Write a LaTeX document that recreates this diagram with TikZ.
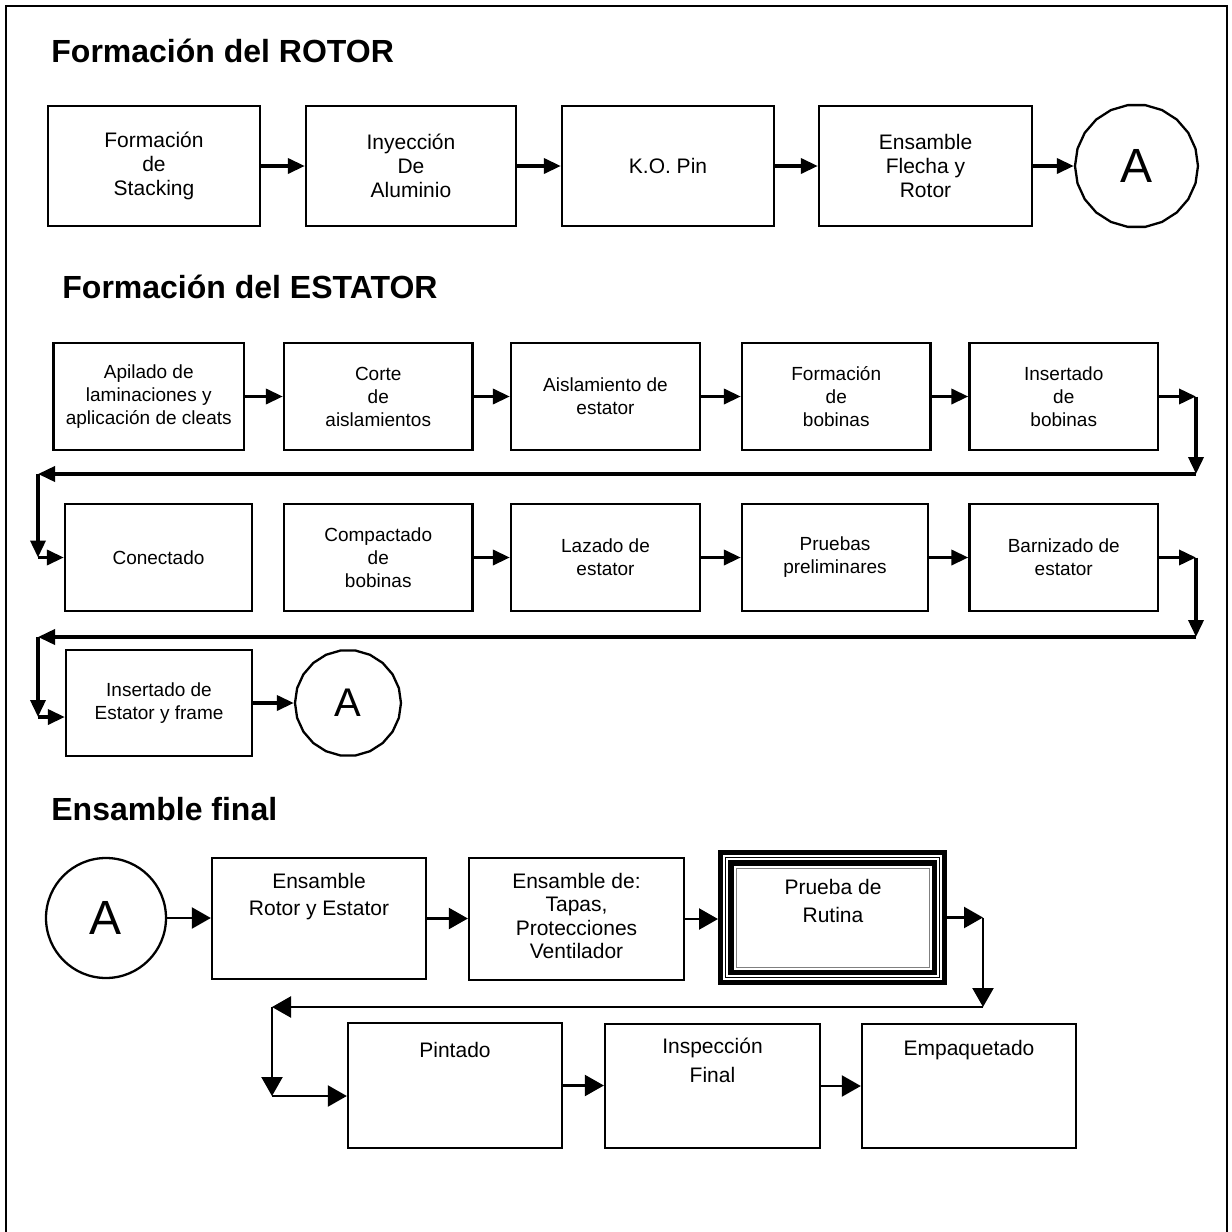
\documentclass[tikz,border=0pt]{standalone}
\usepackage{fontspec}
\setmainfont{Liberation Sans}
\usetikzlibrary{arrows.meta,shapes.geometric}

% one unit = one pixel of a 1232 x 1232 sheet, y grows downwards
\tikzset{
  frameline/.style={line width=1pt},
  procbox/.style={draw, line width=1.15pt, inner sep=0pt, align=center},
  rotortext/.style={font=\fontsize{10.5pt}{12pt}\selectfont},
  statortext/.style={font=\fontsize{9.5pt}{11.5pt}\selectfont},
  heading/.style={font=\bfseries\fontsize{16pt}{19pt}\selectfont, anchor=base west, inner sep=0pt},
  heavyflow/.style={line width=1.8pt, -{Triangle[length=8.5pt,width=7.5pt]}},
  lightflow/.style={line width=1.15pt, -{Triangle[length=9.5pt,width=10.5pt]}},
  offpage/.style={draw, line width=1.15pt, regular polygon, regular polygon sides=22, inner sep=0pt},
  joint/.style={draw, line width=1.15pt, circle, inner sep=0pt},
  steptext/.style={inner sep=0pt, align=center, anchor=north, font=\fontsize{10.5pt}{13.5pt}\selectfont},
}
% process box from its corners: name, x1, y1, x2, y2, style, text
\newcommand\stepnode[7]{%
  \node[procbox,#6,minimum width={(#4-#2)*0.5pt},minimum height={(#5-#3)*0.5pt}]
    (#1) at ({(#2+#4)/2},{(#3+#5)/2}) {#7};}
\newcommand\tstrut{\rule{0pt}{10pt}}

\begin{document}
\begin{tikzpicture}[x=0.5pt,y=-0.5pt]
\useasboundingbox (0,0) rectangle (1232,1232);
\draw[frameline] (6,1240) -- (6,6) -- (1227,6) -- (1227,1240);

% ---------------- rotor ----------------
\node[heading] (hrotor) at (51,62) {Formación del ROTOR};
\stepnode{r1}{48}{106}{260}{226}{rotortext}{Formación\\de\\Stacking}
\stepnode{r2}{306}{106}{516}{226}{rotortext}{Inyección\\De\\Aluminio}
\stepnode{r3}{562}{106}{774}{226}{rotortext}{K.O. Pin}
\stepnode{r4}{819}{106}{1032}{226}{rotortext}{Ensamble\\Flecha y\\Rotor}
\node[offpage, minimum size=61.5pt, font=\fontsize{24pt}{28pt}\selectfont] (rA) at (1136.5,166) {A};
\draw[heavyflow] (r1.east) -- (r2.west);
\draw[heavyflow] (r2.east) -- (r3.west);
\draw[heavyflow] (r3.east) -- (r4.west);
\draw[heavyflow] (r4.east) -- (rA.west);

% ---------------- stator ----------------
\node[heading] (hstator) at (62,298) {Formación del ESTATOR};
\stepnode{s1}{53.5}{343}{244}{450}{statortext}{Apilado de\\laminaciones y\\aplicación de cleats}
\stepnode{s2}{284}{343}{472.5}{450}{statortext}{Corte\\de\\aislamientos}
\stepnode{s3}{511}{343}{700}{450}{statortext}{Aislamiento de\\estator}
\stepnode{s4}{742}{343}{930.5}{450}{statortext}{Formación\\de\\bobinas}
\stepnode{s5}{969.5}{343}{1158}{450}{statortext}{Insertado\\de\\bobinas}

\stepnode{s6}{65}{504}{252}{611}{statortext}{Conectado}
\stepnode{s7}{284}{504}{472.5}{611}{statortext}{Compactado\\de\\bobinas}
\stepnode{s8}{511}{504}{700}{611}{statortext}{Lazado de\\estator}
\stepnode{s9}{742}{504}{928}{611}{statortext}{Pruebas\\preliminares}
\stepnode{s10}{969.5}{504}{1158}{611}{statortext}{Barnizado de\\estator}

\stepnode{s11}{66}{650}{252}{756}{statortext}{Insertado de\\Estator y frame}
\node[offpage, minimum size=53pt, font=\fontsize{20pt}{24pt}\selectfont] (sA) at (348,703) {A};

\draw[heavyflow] (s1.east) -- (s2.west);
\draw[heavyflow] (s2.east) -- (s3.west);
\draw[heavyflow] (s3.east) -- (s4.west);
\draw[heavyflow] (s4.east) -- (s5.west);

\coordinate (sR1) at (1196,396.5);
\coordinate (sR1b) at (1196,474);
\coordinate (sL1) at (38,474);
\coordinate (sL1b) at (38,557.5);
\draw[heavyflow] (s5.east) -- (sR1);
\draw[heavyflow] (sR1) -- (sR1b);
\draw[heavyflow] (sR1b) -- (sL1);
\draw[heavyflow] (sL1) -- (sL1b);
\draw[heavyflow] (sL1b) -- (s6.west);

\draw[heavyflow] (s7.east) -- (s8.west);
\draw[heavyflow] (s8.east) -- (s9.west);
\draw[heavyflow] (s9.east) -- (s10.west);

\coordinate (sR2) at (1196,557.5);
\coordinate (sR2b) at (1196,637);
\coordinate (sL2) at (38,637);
\coordinate (sL2b) at (38,717);
\draw[heavyflow] (s10.east) -- (sR2);
\draw[heavyflow] (sR2) -- (sR2b);
\draw[heavyflow] (sR2b) -- (sL2);
\draw[heavyflow] (sL2) -- (sL2b);
\draw[heavyflow] (sL2b) -- (sL2b -| s11.west);
\draw[heavyflow] (s11.east) -- (sA.west);

% ---------------- final assembly ----------------
\node[heading] (hfinal) at (51,820) {Ensamble final};
\node[joint, minimum size=60pt, font=\fontsize{24pt}{28pt}\selectfont] (fA) at (106,918) {A};
\stepnode{f1}{212}{858}{426}{979}{}{}
\stepnode{f2}{469}{858}{684}{980}{}{}
\node[draw, line width=2.5pt, outer sep=1.25pt, minimum width=112pt, minimum height=65pt, inner sep=0pt]
  (f3) at (832.5,917.5) {};
\draw[line width=0.5pt] ([shift={(7.5,7.5)}]f3.north west) rectangle ([shift={(-7.5,-7.5)}]f3.south east);
\draw[line width=2.75pt] ([shift={(12.75,12.75)}]f3.north west) rectangle ([shift={(-12.75,-12.75)}]f3.south east);
\draw[line width=0.5pt, gray] ([shift={(18,18)}]f3.north west) rectangle ([shift={(-18,-18)}]f3.south east);
\stepnode{f4}{348}{1023}{562}{1148}{}{}
\stepnode{f5}{605}{1024}{820}{1148}{}{}
\stepnode{f6}{862}{1024}{1076}{1148}{}{}

\node[steptext] (f1t) at (319,868) {\tstrut Ensamble\\Rotor y Estator};
\node[steptext, font=\fontsize{10.5pt}{11.65pt}\selectfont] (f2t) at (576.5,868) {\tstrut Ensamble de:\\Tapas,\\Protecciones\\Ventilador};
\node[steptext, font=\fontsize{10.5pt}{14pt}\selectfont] (f3t) at (833,874) {\tstrut Prueba de\\Rutina};
\node[steptext] (f4t) at (455,1037) {\tstrut Pintado};
\node[steptext, font=\fontsize{10.5pt}{14.5pt}\selectfont] (f5t) at (712.5,1033) {\tstrut Inspección\\Final};
\node[steptext] (f6t) at (969,1035) {\tstrut Empaquetado};

\draw[lightflow] (fA.east) -- (fA.east -| f1.west);
\draw[lightflow] (f1.east) -- (f1.east -| f2.west);
\draw[lightflow] (f2.east) -- (f2.east -| f3.west);

\coordinate (fR) at (983,917.5);
\coordinate (fRb) at (983,1007);
\coordinate (fL) at (272,1007);
\coordinate (fLb) at (272,1096);
\draw[lightflow] (f3.east) -- (fR);
\draw[lightflow] (fR) -- (fRb);
\draw[lightflow] (fRb) -- (fL);
\draw[lightflow] (fL) -- (fLb);
\draw[lightflow] (fLb) -- (fLb -| f4.west);
\draw[lightflow] (f4.east) -- (f4.east -| f5.west);
\draw[lightflow] (f5.east) -- (f5.east -| f6.west);
\end{tikzpicture}
\end{document}
